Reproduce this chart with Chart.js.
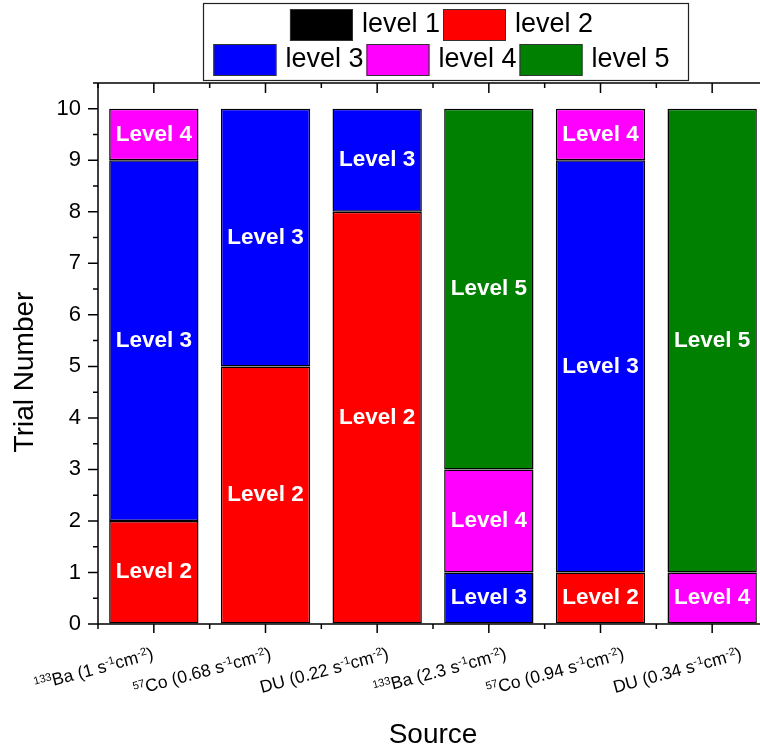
<!DOCTYPE html>
<html>
<head>
<meta charset="utf-8">
<script src="https://cdn.jsdelivr.net/npm/chart.js@4.4.1/dist/chart.umd.min.js"></script>
<style>
  body { margin: 0; background: #fff; }
  #wrap { width: 760px; height: 752px; overflow: hidden; }
  #chart { display: block; }
</style>
</head>
<body>
<div id="wrap"><canvas id="chart" width="790" height="752"></canvas></div>
<script>
// categories, ^...^ marks a superscript part
const sources = [
    "^133^Ba (1 s^-1^cm^-2^)",
    "^57^Co (0.68 s^-1^cm^-2^)",
    "DU (0.22 s^-1^cm^-2^)",
    "^133^Ba (2.3 s^-1^cm^-2^)",
    "^57^Co (0.94 s^-1^cm^-2^)",
    "DU (0.34 s^-1^cm^-2^)"
];

const legendNames = ["level 1", "level 2", "level 3", "level 4", "level 5"];
const segmentTags = ["Level 1", "Level 2", "Level 3", "Level 4", "Level 5"];

const level1 = [0, 0, 0, 0, 0, 0];
const level2 = [2, 5, 8, 0, 1, 0];
const level3 = [7, 5, 2, 1, 8, 0];
const level4 = [1, 0, 0, 2, 1, 1];
const level5 = [0, 0, 0, 7, 0, 9];

const yMin = 0, yMax = 10.5, yStep = 0.5;

const colors = ["#000000", "#ff0000", "#0000ff", "#ff00ff", "#008000"];
const FONT = "'Liberation Sans', Arial, sans-serif";

Chart.defaults.font.family = FONT;
Chart.defaults.color = "#000";

const levels = [level1, level2, level3, level4, level5];

// draws a label with superscript parts, right end at (x, y), rotated
function drawRichLabel(ctx, text, x, y, angle) {
    const parts = text.split("^");
    const mainFont = "17.5px " + FONT;
    const supFont = "11px " + FONT;
    ctx.save();
    ctx.translate(x, y);
    ctx.rotate(-angle * Math.PI / 180);
    let total = 0;
    parts.forEach((p, k) => {
        ctx.font = k % 2 ? supFont : mainFont;
        total += ctx.measureText(p).width;
    });
    let cx = -total;
    ctx.textAlign = "left";
    ctx.textBaseline = "alphabetic";
    ctx.fillStyle = "#000";
    parts.forEach((p, k) => {
        ctx.font = k % 2 ? supFont : mainFont;
        ctx.fillText(p, cx, k % 2 ? 0 : 6);
        cx += ctx.measureText(p).width;
    });
    ctx.restore();
}

const segmentLabels = {
    id: "segmentLabels",
    afterDatasetsDraw(chart) {
        const ctx = chart.ctx;
        ctx.save();
        ctx.font = "bold 22.5px " + FONT;
        ctx.fillStyle = "#fff";
        ctx.textAlign = "center";
        ctx.textBaseline = "middle";
        chart.data.datasets.forEach((ds, di) => {
            const meta = chart.getDatasetMeta(di);
            meta.data.forEach((el, i) => {
                if (!ds.data[i]) return;
                ctx.fillText(segmentTags[di], el.x, (el.y + el.base) / 2);
            });
        });
        ctx.restore();
    }
};

const decor = {
    id: "decor",
    afterDraw(chart) {
        const ctx = chart.ctx;
        const ca = chart.chartArea;
        const xs = chart.scales.x, ys = chart.scales.y;
        ctx.save();
        ctx.strokeStyle = "#000";
        ctx.lineWidth = 1.5;

        // frame
        ctx.beginPath();
        ctx.moveTo(ca.left, ca.top); ctx.lineTo(ca.left, ca.bottom);
        ctx.moveTo(ca.left, ca.bottom); ctx.lineTo(ca.right, ca.bottom);
        ctx.moveTo(ca.left, ca.top); ctx.lineTo(ca.right, ca.top);
        ctx.moveTo(ca.right, ca.top); ctx.lineTo(ca.right, ca.bottom);
        ctx.stroke();

        // y ticks
        ctx.beginPath();
        ys.ticks.forEach(t => {
            const y = ys.getPixelForValue(t.value);
            const len = Number.isInteger(t.value) ? 10 : 5;
            ctx.moveTo(ca.left - len, y); ctx.lineTo(ca.left, y);
        });
        // x ticks: major at categories, minor between
        const n = sources.length;
        for (let i = 0; i < n; i++) {
            const x = xs.getPixelForTick(i);
            ctx.moveTo(x, ca.bottom); ctx.lineTo(x, ca.bottom + 9);
            ctx.moveTo(x, ca.top); ctx.lineTo(x, ca.top + 10);
            const xm = i < n - 1 ? (x + xs.getPixelForTick(i + 1)) / 2 : ca.right;
            ctx.moveTo(xm, ca.bottom); ctx.lineTo(xm, ca.bottom + 5);
            ctx.moveTo(xm, ca.top); ctx.lineTo(xm, ca.top + 5);
        }
        ctx.moveTo(ca.left, ca.bottom); ctx.lineTo(ca.left, ca.bottom + 5);
        ctx.moveTo(ca.left, ca.top); ctx.lineTo(ca.left, ca.top + 5);
        ctx.stroke();

        // x tick labels
        for (let i = 0; i < n; i++) {
            drawRichLabel(ctx, sources[i], xs.getPixelForTick(i) - 1 + 6 * i, ca.bottom + 29, 15);
        }

        // y title
        ctx.save();
        ctx.translate(25, 372);
        ctx.rotate(-Math.PI / 2);
        ctx.font = "28px " + FONT;
        ctx.fillStyle = "#000";
        ctx.textAlign = "center";
        ctx.textBaseline = "middle";
        ctx.fillText("Trial Number", 0, 0);
        ctx.restore();

        // legend
        ctx.fillStyle = "#fff";
        ctx.fillRect(203, 3, 485, 77);
        ctx.lineWidth = 1.2;
        ctx.strokeStyle = "#222";
        ctx.strokeRect(203.5, 3.5, 485, 77);
        ctx.font = "27px " + FONT;
        ctx.textAlign = "left";
        ctx.textBaseline = "middle";
        const rows = [[0, 1], [2, 3, 4]];
        const rowTop = [9, 44];
        const sw = 63, sh = 32, gapText = 9, gapItem = 3;
        rows.forEach((row, r) => {
            let w = 0;
            row.forEach((k, j) => {
                w += sw + gapText + ctx.measureText(legendNames[k]).width + (j < row.length - 1 ? gapItem : 0);
            });
            let x = 441.5 - w / 2;
            const y = rowTop[r];
            row.forEach(k => {
                ctx.fillStyle = colors[k];
                ctx.fillRect(x, y, sw, sh);
                ctx.lineWidth = 1;
                ctx.strokeStyle = "#333";
                ctx.strokeRect(x + 0.5, y + 0.5, sw - 1, sh - 1);
                ctx.fillStyle = "#000";
                ctx.fillText(legendNames[k], x + sw + gapText, y + sh / 2);
                x += sw + gapText + ctx.measureText(legendNames[k]).width + gapItem;
            });
        });
        ctx.restore();
    }
};

const ctx = document.getElementById("chart").getContext("2d");

new Chart(ctx, {
    type: "bar",
    data: {
        labels: sources,
        datasets: levels.map((vals, k) => ({
            label: legendNames[k],
            data: vals,
            backgroundColor: colors[k],
            borderColor: "#000",
            borderWidth: c => c.raw ? 1.5 : 0,
            borderSkipped: false,
            barPercentage: 0.8,
            categoryPercentage: 1.0
        }))
    },
    options: {
        responsive: false,
        animation: false,
        layout: { padding: { top: 83, right: 22, left: 0, bottom: 0 } },
        plugins: {
            legend: { display: false },
            tooltip: { enabled: false }
        },
        scales: {
            x: {
                stacked: true,
                grid: { display: false },
                border: { display: false },
                ticks: { display: false },
                title: {
                    display: true,
                    text: "Source",
                    color: "#000",
                    font: { size: 28 },
                    padding: { top: 0, bottom: 0 }
                },
                afterFit: s => { s.height = 128; }
            },
            y: {
                stacked: true,
                min: yMin,
                max: yMax,
                grid: { color: "rgba(0,0,0,0)", drawOnChartArea: false, tickLength: 10 },
                border: { display: false },
                ticks: {
                    stepSize: yStep,
                    autoSkip: false,
                    padding: 7,
                    color: "#000",
                    font: { size: 22 },
                    callback: v => Number.isInteger(v) ? v : ""
                },
                afterFit: s => { s.width = 98; }
            }
        }
    },
    plugins: [segmentLabels, decor]
});
</script>
</body>
</html>
